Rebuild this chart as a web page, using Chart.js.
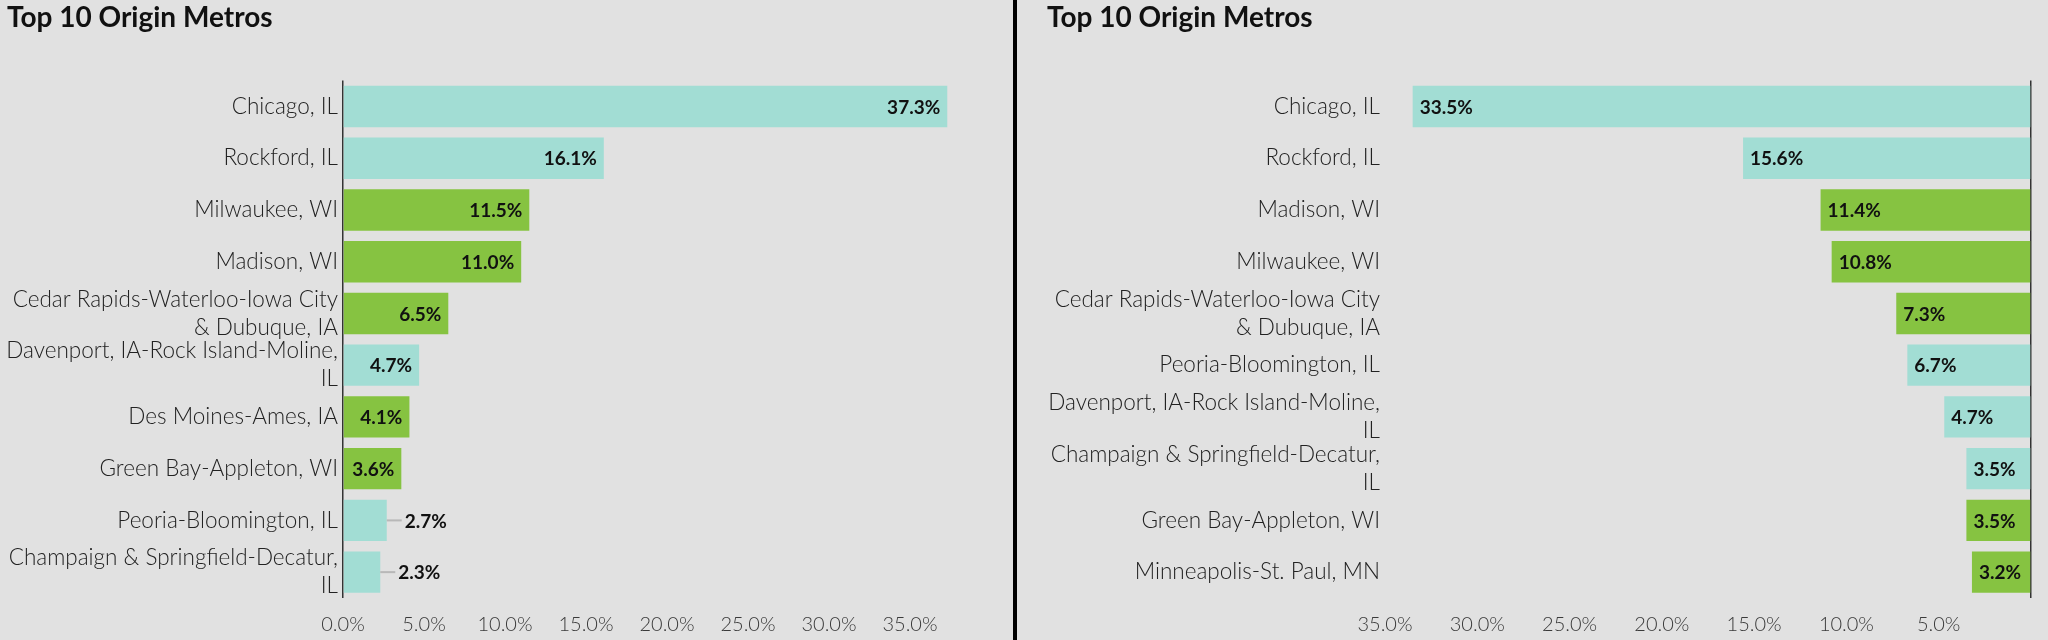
<!DOCTYPE html>
<html>
<head>
<meta charset="utf-8">
<script src="https://cdn.jsdelivr.net/npm/chart.js@4.4.1/dist/chart.umd.min.js"></script>
<style>
  html, body { margin: 0; padding: 0; background: #e1e1e1; }
  #wrap { position: relative; width: 2048px; height: 640px; overflow: hidden; }
  #leftBox { position: absolute; left: 0; top: 0; width: 1013px; height: 640px; }
  #rightBox { position: absolute; left: 1017px; top: 0; width: 1031px; height: 640px; }
  #divider { position: absolute; left: 1013px; top: 0; width: 4px; height: 640px; background: #000; }
</style>
</head>
<body>
<div id="wrap">
  <div id="leftBox"><canvas id="leftChart"></canvas></div>
  <div id="divider"></div>
  <div id="rightBox"><canvas id="rightChart"></canvas></div>
</div>
<script>
// -------------------- Data --------------------
const chartTitle = "Top 10 Origin Metros";

const leftLabels = [
  "Chicago, IL",
  "Rockford, IL",
  "Milwaukee, WI",
  "Madison, WI",
  ["Cedar Rapids-Waterloo-Iowa City", "& Dubuque, IA"],
  ["Davenport, IA-Rock Island-Moline,", "IL"],
  "Des Moines-Ames, IA",
  "Green Bay-Appleton, WI",
  "Peoria-Bloomington, IL",
  ["Champaign & Springfield-Decatur,", "IL"]
];
const leftValues = [37.3, 16.1, 11.5, 11.0, 6.5, 4.7, 4.1, 3.6, 2.7, 2.3];

const rightLabels = [
  "Chicago, IL",
  "Rockford, IL",
  "Madison, WI",
  "Milwaukee, WI",
  ["Cedar Rapids-Waterloo-Iowa City", "& Dubuque, IA"],
  "Peoria-Bloomington, IL",
  ["Davenport, IA-Rock Island-Moline,", "IL"],
  ["Champaign & Springfield-Decatur,", "IL"],
  "Green Bay-Appleton, WI",
  "Minneapolis-St. Paul, MN"
];
const rightValues = [33.5, 15.6, 11.4, 10.8, 7.3, 6.7, 4.7, 3.5, 3.5, 3.2];

const tickStep = 5;

// -------------------- Style --------------------
const TEAL = "#a2ddd4";
const GREEN = "#86c341";
const FONT = "Lato, 'Open Sans', sans-serif";

// Illinois metros are teal, the rest green
function barColors(labels) {
  return labels.map(l => {
    const text = Array.isArray(l) ? l.join(" ") : l;
    return text.trim().endsWith("IL") ? TEAL : GREEN;
  });
}

// -------------------- Value labels on bars --------------------
const valueLabels = {
  id: "valueLabels",
  afterDatasetsDraw(chart) {
    const ctx = chart.ctx;
    const rev = chart.options.scales.x.reverse;
    const dir = rev ? -1 : 1;
    const values = chart.data.datasets[0].data;
    ctx.save();
    ctx.font = "bold 19px " + FONT;
    ctx.textBaseline = "middle";
    chart.getDatasetMeta(0).data.forEach((bar, i) => {
      const txt = values[i].toFixed(1) + "%";
      const w = ctx.measureText(txt).width;
      const len = Math.abs(bar.x - bar.base);
      ctx.fillStyle = "#111";
      if (len >= w + 12) {
        ctx.textAlign = rev ? "left" : "right";
        ctx.fillText(txt, bar.x - dir * 7, bar.y + 1);
      } else {
        ctx.strokeStyle = "#b8b8b8";
        ctx.lineWidth = 2;
        ctx.beginPath();
        ctx.moveTo(bar.x, bar.y);
        ctx.lineTo(bar.x + dir * 15, bar.y);
        ctx.stroke();
        ctx.textAlign = rev ? "right" : "left";
        ctx.fillText(txt, bar.x + dir * 18, bar.y + 1);
      }
    });
    ctx.restore();
  }
};

// -------------------- Build one chart --------------------
function makeChart(id, labels, values, opts) {
  const ctx = document.getElementById(id).getContext("2d");
  return new Chart(ctx, {
    type: "bar",
    data: {
      labels: labels,
      datasets: [{
        data: values,
        backgroundColor: barColors(labels),
        borderWidth: 0,
        barPercentage: 0.8,
        categoryPercentage: 1.0
      }]
    },
    options: {
      indexAxis: "y",
      responsive: true,
      maintainAspectRatio: false,
      animation: false,
      layout: { padding: { left: opts.padLeft, right: opts.padRight, top: 0, bottom: 0 } },
      plugins: {
        legend: { display: false },
        tooltip: { enabled: false },
        title: {
          display: true,
          text: chartTitle,
          align: "start",
          color: "#111",
          font: { family: FONT, size: 28, weight: "bold", lineHeight: 1.2 },
          padding: { top: 1, bottom: 46 }
        }
      },
      scales: {
        x: {
          reverse: opts.reverse,
          min: 0,
          max: opts.max,
          afterFit: s => { s.height = 42; },
          afterBuildTicks: s => {
            s.ticks = s.ticks.filter(t => t.value % tickStep === 0);
          },
          grid: {
            drawTicks: false,
            lineWidth: 1.5,
            color: c => (c.tick && c.tick.value === 0 ? "#333" : "rgba(0,0,0,0)")
          },
          border: { display: false },
          ticks: {
            stepSize: tickStep,
            padding: 15,
            color: "#3a3a3a",
            font: { family: FONT, size: 20, weight: 300 },
            callback: v => (opts.hideTicks.includes(v) ? "" : v.toFixed(1) + "%")
          }
        },
        y: {
          afterFit: s => { s.width = opts.axisWidth; },
          grid: { display: false, drawTicks: false },
          border: { display: false },
          ticks: {
            autoSkip: false,
            padding: 5,
            color: "#222",
            font: { family: FONT, size: 22.5, weight: 300, lineHeight: 1.25 }
          }
        }
      }
    },
    plugins: [valueLabels]
  });
}

makeChart("leftChart", leftLabels, leftValues, {
  reverse: false, max: 40, hideTicks: [40],
  padLeft: 7, padRight: 22, axisWidth: 336
});

makeChart("rightChart", rightLabels, rightValues, {
  reverse: true, max: 35, hideTicks: [0],
  padLeft: 30, padRight: 17, axisWidth: 338
});
</script>
</body>
</html>
